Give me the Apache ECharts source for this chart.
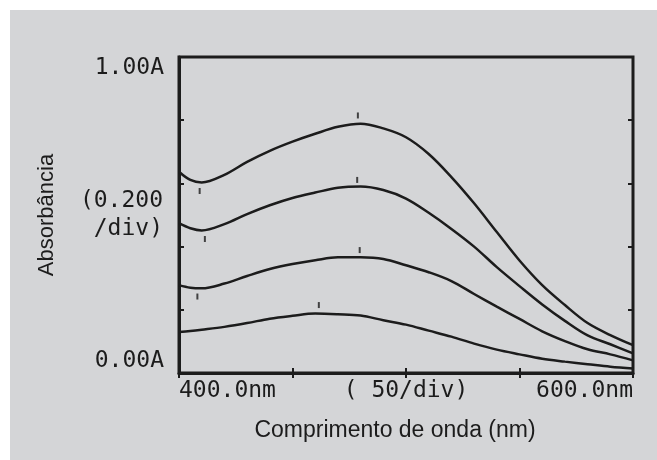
<!DOCTYPE html>
<html>
<head>
<meta charset="utf-8">
<script src="https://cdn.jsdelivr.net/npm/echarts@6/dist/echarts.min.js"></script>
<style>
html,body{margin:0;padding:0;background:#ffffff;}
#chart{width:657px;height:460px;}
</style>
</head>
<body>
<div id="chart"></div>
<script>
// wavelengths (nm)
const wavelengths = [400,405,410,420,430,440,450,460,470,480,490,500,510,520,530,540,550,560,570,580,590,600];
// absorbance curves (A)
const curve1 = [0.637,0.611,0.603,0.627,0.668,0.703,0.732,0.757,0.779,0.789,0.774,0.746,0.693,0.620,0.537,0.446,0.356,0.278,0.215,0.158,0.120,0.088];
const curve2 = [0.474,0.458,0.451,0.471,0.503,0.531,0.554,0.571,0.586,0.590,0.579,0.552,0.507,0.456,0.400,0.335,0.275,0.217,0.165,0.119,0.091,0.062];
const curve3 = [0.278,0.270,0.268,0.283,0.307,0.329,0.345,0.357,0.366,0.366,0.361,0.341,0.319,0.291,0.250,0.210,0.171,0.132,0.101,0.075,0.059,0.040];
const curve4 = [0.130,0.133,0.137,0.146,0.158,0.172,0.181,0.188,0.186,0.182,0.167,0.153,0.134,0.115,0.093,0.074,0.059,0.045,0.036,0.028,0.020,0.014];
// peak / valley marks of the instrument
const markLambda = [409.1,478.8,411.4,478.5,408.1,479.6,461.6];
const markAbs    = [0.576,0.815,0.424,0.611,0.242,0.389,0.215];
// tick labels
const xLabelValues = [400,500,600];
const xLabelTexts  = ['400.0nm','( 50/div)','600.0nm'];
const yLabelValues = [0,1];
const yLabelTexts  = ['0.00A','1.00A'];

const INK = '#1c1c1c';
const BG = '#d4d5d7';
const monoFont = 'DejaVu Sans Mono';
const sansFont = 'Liberation Sans';

function pairs(ys){ return wavelengths.map((x,i)=>[x, ys[i]]); }
function curveSeries(ys){
  return {type:'line', data:pairs(ys), xAxisIndex:0, yAxisIndex:0, smooth:0.35, symbol:'none',
    lineStyle:{color:INK, width:2.5}, silent:true, z:3};
}

const chart = echarts.init(document.getElementById('chart'), null, {renderer:'canvas'});
chart.setOption({
  backgroundColor: BG,
  animation:false,
  graphic:[
    {type:'rect', shape:{x:0,y:0,width:657,height:10}, style:{fill:'#ffffff'}, silent:true},
    {type:'rect', shape:{x:0,y:0,width:10,height:460}, style:{fill:'#ffffff'}, silent:true}
  ],
  grid:{left:179, right:24, top:57, bottom:87, show:true, borderColor:INK, borderWidth:3, backgroundColor:'transparent', outerBoundsMode:'none'},
  xAxis:[
    {type:'value', min:400, max:600, interval:50, position:'bottom',
     axisLine:{show:true, lineStyle:{color:INK, width:3}},
     axisTick:{show:true, inside:true, length:5, lineStyle:{color:INK, width:2}},
     splitLine:{show:false},
     axisLabel:{show:true, margin:7, color:INK, fontFamily:monoFont, fontSize:23,
       alignMinLabel:'left', alignMaxLabel:'right',
       formatter:function(v){ const i = xLabelValues.indexOf(v); return i>=0 ? xLabelTexts[i] : ''; }},
     name:'Comprimento de onda (nm)', nameLocation:'middle', nameGap:46, nameMoveOverlap:false,
     nameTextStyle:{color:INK, fontFamily:sansFont, fontSize:23, padding:[0,22,0,0]}},
    {type:'value', min:400, max:600, interval:50, position:'top',
     axisLine:{show:false}, axisLabel:{show:false}, splitLine:{show:false},
     axisTick:{show:true, inside:true, length:5, lineStyle:{color:INK, width:2}}}
  ],
  yAxis:[
    {type:'value', min:0, max:1, interval:0.2, position:'left',
     axisLine:{show:true, lineStyle:{color:INK, width:3}},
     axisTick:{show:true, inside:true, length:5, lineStyle:{color:INK, width:2}},
     splitLine:{show:false},
     axisLabel:{show:true, margin:15, color:INK, fontFamily:monoFont, fontSize:23,
       verticalAlignMinLabel:'bottom', verticalAlignMaxLabel:'top',
       formatter:function(v){ const i = yLabelValues.findIndex(t=>Math.abs(t-v)<1e-9); return i>=0 ? yLabelTexts[i] : ''; }},
     name:'(0.200\n/div)', nameLocation:'middle', nameRotate:0, nameGap:16, nameMoveOverlap:false,
     nameTextStyle:{color:INK, fontFamily:monoFont, fontSize:23, lineHeight:28, align:'right', verticalAlign:'middle'}},
    {type:'value', min:0, max:1, position:'left',
     axisLine:{show:false}, axisTick:{show:false}, axisLabel:{show:false}, splitLine:{show:false},
     name:'Absorbância', nameLocation:'middle', nameRotate:90, nameGap:121, nameMoveOverlap:false,
     nameTextStyle:{color:INK, fontFamily:sansFont, fontSize:22}},
    {type:'value', min:0, max:1, interval:0.2, position:'right',
     axisLine:{show:false}, axisLabel:{show:false}, splitLine:{show:false},
     axisTick:{show:true, inside:true, length:5, lineStyle:{color:INK, width:2}}}
  ],
  series:[
    curveSeries(curve1),
    curveSeries(curve2),
    curveSeries(curve3),
    curveSeries(curve4),
    {type:'scatter', xAxisIndex:0, yAxisIndex:0, silent:true, z:4,
     data: markLambda.map((x,i)=>[x, markAbs[i]]),
     symbol:'rect', symbolSize:[2,6], itemStyle:{color:INK}}
  ]
});
</script>
</body>
</html>
